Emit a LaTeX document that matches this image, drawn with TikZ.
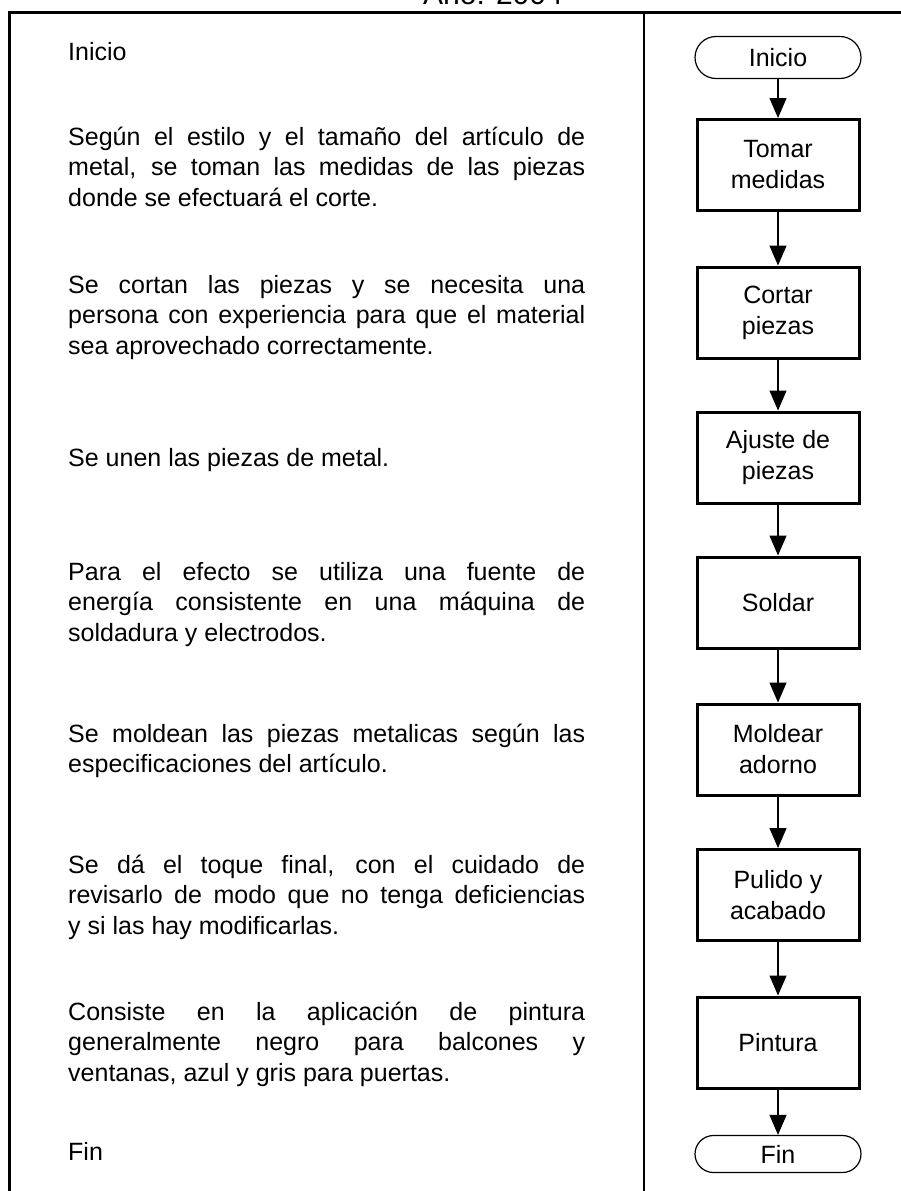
\documentclass[tikz,border=0pt]{standalone}
\usepackage{fontspec}
\setmainfont{Liberation Sans}
\usetikzlibrary{arrows.meta}
\begin{document}
\begin{tikzpicture}[x=1pt,y=-1pt,
  frame/.style={line width=2.5pt},
  txt/.style={anchor=base west, inner sep=0pt, font=\fontsize{25}{30}\selectfont},
  proc/.style={draw, line width=3pt, minimum width=162pt, minimum height=91pt, inner sep=0pt, align=center, font=\fontsize{25}{31}\selectfont},
  term/.style={draw, line width=1.2pt, minimum width=166pt, inner sep=0pt, align=center, font=\fontsize{25}{30}\selectfont},
  arr/.style={line width=1.2pt, -{Triangle[width=17pt,length=20pt]}}]
\useasboundingbox (0,0) rectangle (900,1191);
\fill[white] (0,0) rectangle (900,1191);
% title (partly cut at top)
\node[anchor=base, inner sep=0pt, font=\fontsize{30}{36}\selectfont] (title) at (493,5) {Año: 2004};
% frame
\draw[frame] (9.5,1195) -- (9.5,12.5) -- (905,12.5);
\draw[frame] (644,12.5) -- (644,1195);
% left column text
\def\W{517pt}
\node[txt] (t0) at (68,60) {Inicio};
\node[txt] (p1a) at (68,145) {\makebox[\W][s]{Según el estilo y el tamaño del artículo de}};
\node[txt] (p1b) at (68,175.5) {\makebox[\W][s]{metal, se toman las medidas de las piezas}};
\node[txt] (p1c) at (68,206) {donde se efectuará el corte.};
\node[txt] (p2a) at (68,293) {\makebox[\W][s]{Se cortan las piezas y se necesita una}};
\node[txt] (p2b) at (68,323.5) {\makebox[\W][s]{persona con experiencia para que el material}};
\node[txt] (p2c) at (68,354) {sea aprovechado correctamente.};
\node[txt] (p3) at (68,466) {Se unen las piezas de metal.};
\node[txt] (p4a) at (68,580) {\makebox[\W][s]{Para el efecto se utiliza una fuente de}};
\node[txt] (p4b) at (68,610.5) {\makebox[\W][s]{energía consistente en una máquina de}};
\node[txt] (p4c) at (68,641) {soldadura y electrodos.};
\node[txt] (p5a) at (68,742) {\makebox[\W][s]{Se moldean las piezas metalicas según las}};
\node[txt] (p5b) at (68,772.5) {especificaciones del artículo.};
\node[txt] (p6a) at (68,873) {\makebox[\W][s]{Se dá el toque final, con el cuidado de}};
\node[txt] (p6b) at (68,903.5) {\makebox[\W][s]{revisarlo de modo que no tenga deficiencias}};
\node[txt] (p6c) at (68,934) {y si las hay modificarlas.};
\node[txt] (p7a) at (68,1020) {\makebox[\W][s]{Consiste en la aplicación de pintura}};
\node[txt] (p7b) at (68,1050.5) {\makebox[\W][s]{generalmente negro para balcones y}};
\node[txt] (p7c) at (68,1081) {ventanas, azul y gris para puertas.};
\node[txt] (tfin) at (68,1160) {Fin};
% flowchart
\node[term, minimum height=42pt, rounded corners=21pt] (inicio) at (778,57.5) {Inicio};
\node[proc] (b1) at (778,165) {Tomar\\medidas};
\node[proc] (b2) at (778,312.5) {Cortar\\piezas};
\node[proc] (b3) at (778,457.5) {Ajuste de\\piezas};
\node[proc] (b4) at (778,602.5) {Soldar};
\node[proc] (b5) at (778,749.5) {Moldear\\adorno};
\node[proc] (b6) at (778,895) {Pulido y\\acabado};
\node[proc] (b7) at (778,1042.5) {Pintura};
\node[term, minimum height=37pt, rounded corners=18.5pt] (fin) at (778,1154) {Fin};
\draw[arr] (inicio) -- (b1);
\draw[arr] (b1) -- (b2);
\draw[arr] (b2) -- (b3);
\draw[arr] (b3) -- (b4);
\draw[arr] (b4) -- (b5);
\draw[arr] (b5) -- (b6);
\draw[arr] (b6) -- (b7);
\draw[arr] (b7) -- (fin);
\end{tikzpicture}
\end{document}
